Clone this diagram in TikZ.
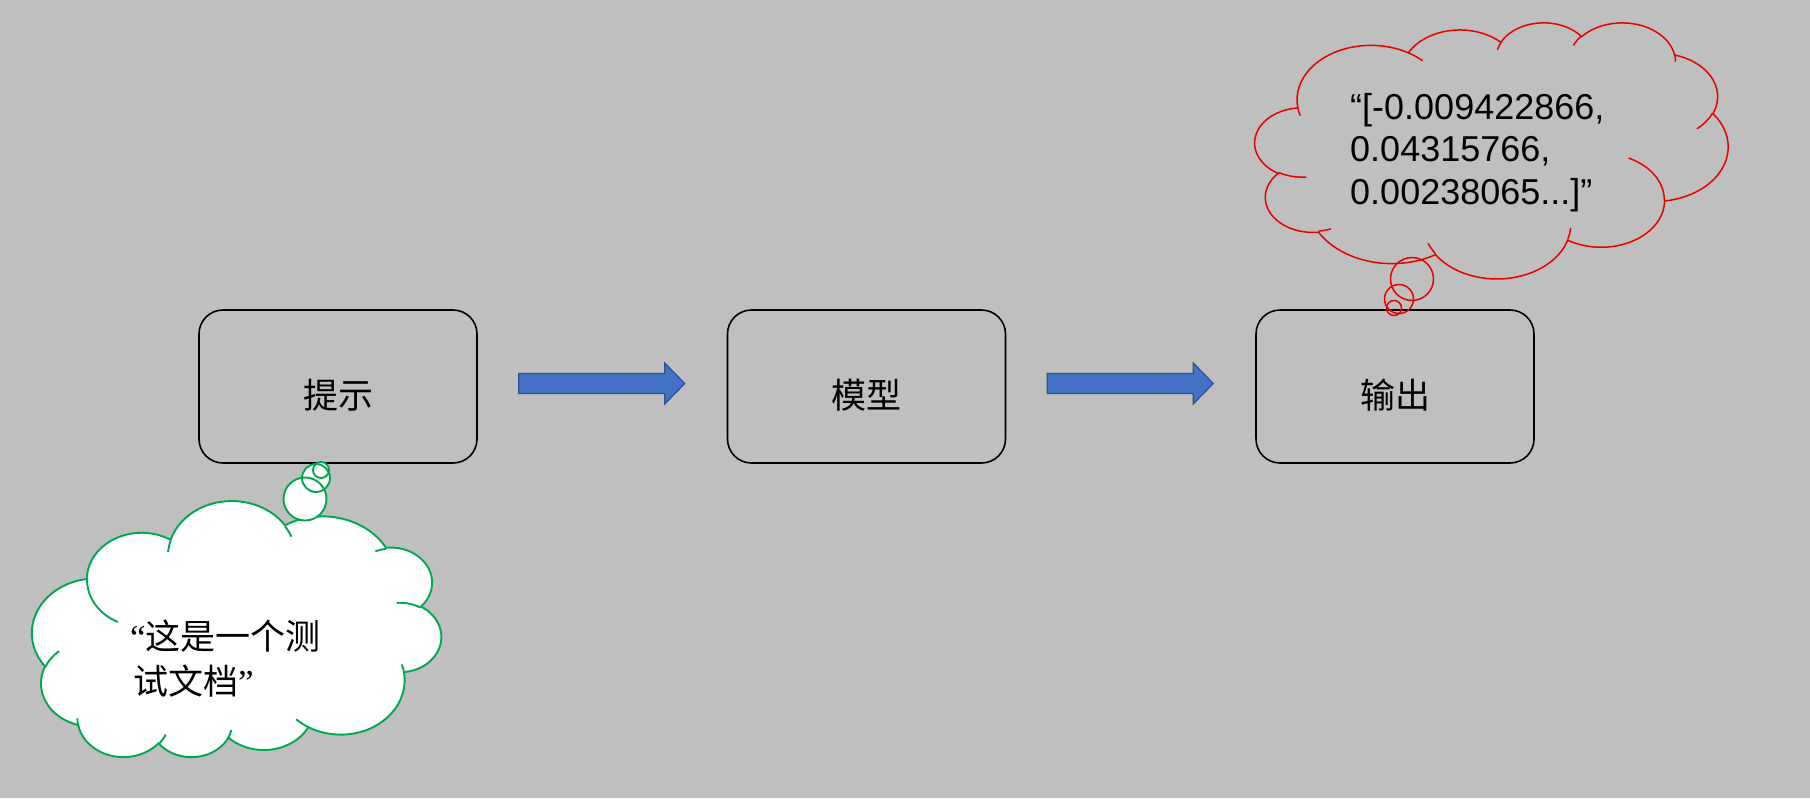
\documentclass[tikz,border=0pt]{standalone}
\usepackage{fontspec}
\setmainfont{Liberation Sans}
\newfontfamily\cjk{Noto Sans CJK SC}
\newfontfamily\qfont{Liberation Serif}
\usetikzlibrary{calc}
\definecolor{bg}{RGB}{191,191,191}
\definecolor{cgreen}{RGB}{0,168,80}
\definecolor{cred}{RGB}{235,0,0}
\definecolor{afill}{RGB}{68,114,196}
\definecolor{aline}{RGB}{47,82,143}
\tikzset{
  declare function={pang(\a,\w,\h)=\a+Mod(atan2(\w*sin(\a),\h*cos(\a))-\a+180,360)-180;},
  box/.style={draw=black, line width=1.6pt, rounded corners=24pt, minimum width=278pt, minimum height=153pt, inner sep=0pt},
  boxlabel/.style={font=\cjk\fontsize{35}{42}\selectfont, anchor=base, inner sep=0pt},
  blockarrow/.style={fill=afill, draw=aline, line width=1.3pt, line join=miter},
  redtext/.style={font=\fontsize{36}{43}\selectfont, anchor=base west, inner sep=0pt},
  greentext/.style={font=\cjk\fontsize{35}{45}\selectfont, anchor=base west, inner sep=0pt},
  redline/.style={draw=cred, line width=1.5pt},
  greenline/.style={draw=cgreen, line width=1.9pt},
}
\newcommand\oarc[4]{arc[start angle={pang(#1,#3,#4)}, end angle={pang((#1)+(#2),#3,#4)}, x radius=#3, y radius=#4]}
\newcommand\cloudmain{(390,1437)
  \oarc{-190.4875}{123.7805}{675.3}{919}
  \oarc{-144.1024}{89.9452}{533.3}{726.7}
  \oarc{-145.8079}{99.7230}{436.5}{594.5}
  \oarc{-130.9861}{117.2417}{485.7}{659.5}
  \oarc{-78.7089}{109.0269}{533.3}{727.3}
  \oarc{-46.2673}{130.2690}{677.5}{922}
  \oarc{0.6250}{114.0333}{578.5}{786.7}
  \oarc{22.4516}{115.1726}{675.2}{921.5}
  \oarc{66.2426}{75.7110}{772}{1054.3}
  \oarc{-274.9421}{146.7356}{436}{591.8}
  \oarc{-246.8285}{152.5189}{434.5}{594.5}
  -- cycle}
\newcommand\cloudinner{
  (469.3,2617.7) \oarc{86.7420}{26.4295}{434.5}{594.5}
  (692.8,3489.9) \oarc{73.6105}{11.4475}{436}{591.8}
  (1647.8,3909) \oarc{137.6242}{14.0811}{675.2}{921.5}
  (2882.7,3475.1) \oarc{6.4533}{15.9984}{675.2}{921.5}
  (3412.9,2295.4) \oarc{-70.2924}{70.9174}{578.5}{786.7}
  (4179.8,1535.4) \oarc{30.3180}{27.7515}{533.3}{727.3}
  (3832.4,542.6) \oarc{-13.7443}{14.8589}{485.7}{659.5}
  (2907.8,395.2) \oarc{-149.1815}{18.1954}{485.7}{659.5}
  (2214.1,472) \oarc{-163.4943}{17.6874}{436.5}{594.5}
  (1400,519.2) \oarc{-66.7070}{12.3194}{675.3}{919}
  (412.7,1578.9) \oarc{157.6544}{11.8582}{675.3}{919}}
\begin{document}
\begin{tikzpicture}[x=1pt, y=-1pt]
\fill[bg] (0,0) rectangle (1810,798);
\useasboundingbox (0,0) rectangle (1810,798);

% boxes
\node[box] (b1) at (338,386.5) {};
\node[box] (b2) at (866.5,386.5) {};
\node[box] (b3) at (1395,386.5) {};
\node[boxlabel] (t1) at ($(b1.center)+(0,22)$) {提示};
\node[boxlabel] (t2) at ($(b2.center)+(0,22)$) {模型};
\node[boxlabel] (t3) at ($(b3.center)+(0,22)$) {输出};

% block arrows
\coordinate (s1) at ($(b1.east)+(41,-3)$);
\coordinate (e1) at ($(b2.west)+(-42,-3)$);
\coordinate (s2) at ($(b2.east)+(41,-3)$);
\coordinate (e2) at ($(b3.west)+(-42,-3)$);
\draw[blockarrow] ($(s1)+(0,-10)$) -- ($(e1)+(-20,-10)$) -- ($(e1)+(-20,-20.5)$) -- (e1)
  -- ($(e1)+(-20,20.5)$) -- ($(e1)+(-20,10)$) -- ($(s1)+(0,10)$) -- cycle;
\draw[blockarrow] ($(s2)+(0,-10)$) -- ($(e2)+(-20,-10)$) -- ($(e2)+(-20,-20.5)$) -- (e2)
  -- ($(e2)+(-20,20.5)$) -- ($(e2)+(-20,10)$) -- ($(s2)+(0,10)$) -- cycle;

% green cloud (rotated 180 degrees)
\begin{scope}[shift={(441,758)}, xscale=-0.09468, yscale=-0.05926]
  \fill[white] \cloudmain;
  \draw[greenline] \cloudmain;
  \draw[greenline] \cloudinner;
\end{scope}
\fill[white] (305,499) circle[radius=21.5];
\fill[white] (316,478) circle[radius=14];
\fill[white] (321,470) circle[radius=8];
\draw[greenline] (305,499) circle[radius=21.5];
\draw[greenline] (316,478) circle[radius=14];
\draw[greenline] (321,470) circle[radius=8];
\node[greentext] (g1) at (130,649) {{\qfont “}这是一个测};
\node[greentext] (g2) at (133,694) {试文档{\qfont ”}};

% red cloud
\begin{scope}[shift={(1255,22)}, xscale=0.10949, yscale=0.05926]
  \draw[redline] \cloudmain;
  \draw[redline] \cloudinner;
\end{scope}
\draw[redline] (1412,279) circle[radius=21.5];
\draw[redline] (1399,299) circle[radius=14.5];
\draw[redline] (1394,308) circle[radius=7.5];
\node[redtext] (r1) at (1350,119) {“[-0.009422866,};
\node[redtext] (r2) at (1350,161.5) {0.04315766,};
\node[redtext] (r3) at (1350,204) {0.00238065...]”};
\end{tikzpicture}
\end{document}
